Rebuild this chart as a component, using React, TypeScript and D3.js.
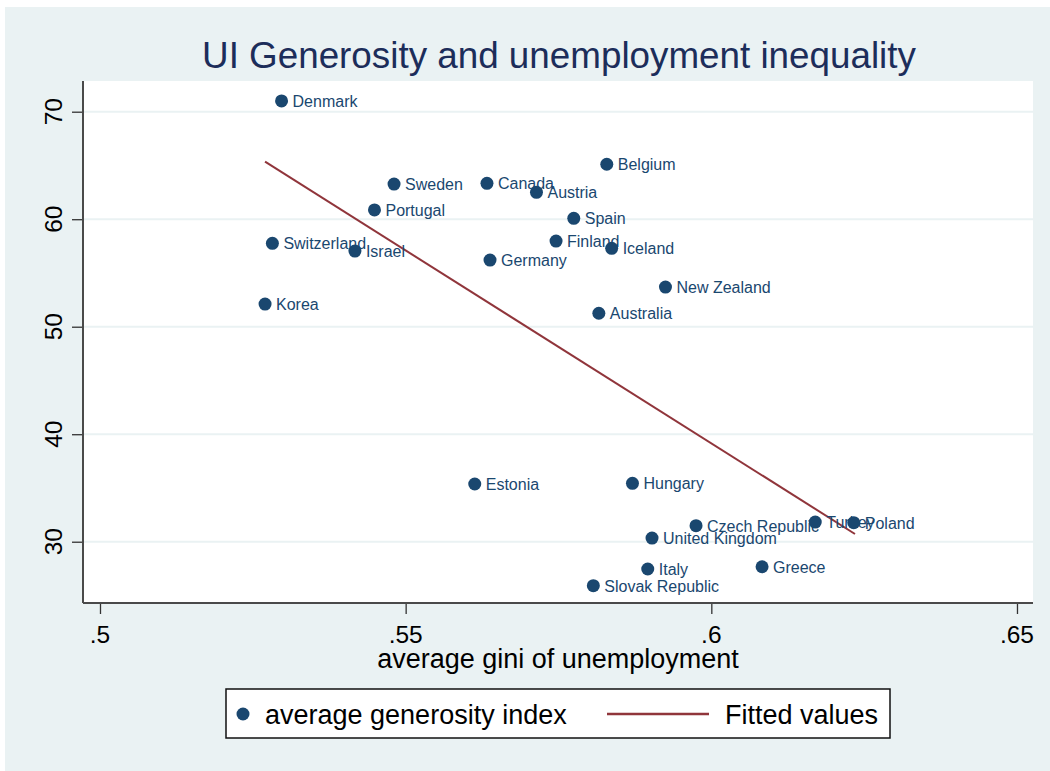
import { useRef, useEffect } from 'react';
import * as d3 from 'd3';

// Countries, average gini of unemployment (x), average generosity index (y)
const COUNTRIES = [
  'Denmark', 'Sweden', 'Canada', 'Austria', 'Belgium', 'Portugal', 'Spain',
  'Switzerland', 'Israel', 'Finland', 'Iceland', 'Germany', 'New Zealand',
  'Korea', 'Australia', 'Estonia', 'Hungary', 'Czech Republic', 'Turkey',
  'Poland', 'United Kingdom', 'Italy', 'Greece', 'Slovak Republic'
];
const GINI = [
  0.5297, 0.5481, 0.5633, 0.5714, 0.5829, 0.5449, 0.5775,
  0.5282, 0.5417, 0.5746, 0.5837, 0.5638, 0.5925,
  0.5270, 0.5816, 0.5613, 0.5871, 0.5975, 0.6170,
  0.6233, 0.5903, 0.5896, 0.6083, 0.5807
];
const GENEROSITY = [
  71.0, 63.27, 63.34, 62.5, 65.11, 60.86, 60.08,
  57.76, 57.04, 57.97, 57.29, 56.2, 53.69,
  52.11, 51.25, 35.37, 35.43, 31.49, 31.83,
  31.77, 30.34, 27.46, 27.67, 25.91
];
// Fitted values line (end points)
const FIT_X = [0.527, 0.6235];
const FIT_Y = [65.35, 30.72];

const X_TICKS = [0.5, 0.55, 0.6, 0.65];
const Y_TICKS = [30, 40, 50, 60, 70];

const TITLE = 'UI Generosity and unemployment inequality';
const X_TITLE = 'average gini of unemployment';
const LEGEND = ['average generosity index', 'Fitted values'];

const BG = '#eaf2f3';
const NAVY = '#1a476f';
const MAROON = '#90353b';
const FONT = '"Liberation Sans", Arial, sans-serif';

export default function App() {
  const ref = useRef<SVGSVGElement>(null);

  useEffect(() => {
    if (!ref.current) return;
    const width = 1050;
    const height = 771;
    const left = 83, right = 1033, top = 81, bottom = 603;

    const svg = d3.select(ref.current);
    svg.selectAll('*').remove();
    svg.attr('width', width).attr('height', height);

    svg.append('rect')
      .attr('x', 5).attr('y', 7)
      .attr('width', width - 5).attr('height', height - 7)
      .attr('fill', BG);

    const x = d3.scaleLinear().domain([0.49722, 0.65262]).range([left, right]);
    const y = d3.scaleLinear().domain([24.3, 72.856]).range([bottom, top]);

    // plot region
    svg.append('rect')
      .attr('x', left).attr('y', top)
      .attr('width', right - left).attr('height', bottom - top)
      .attr('fill', '#fff');

    // gridlines
    svg.append('g')
      .selectAll('line')
      .data(Y_TICKS)
      .join('line')
      .attr('x1', left).attr('x2', right)
      .attr('y1', (d) => y(d)).attr('y2', (d) => y(d))
      .attr('stroke', BG)
      .attr('stroke-width', 2);

    // title
    svg.append('text')
      .attr('x', (left + right) / 2 + 1)
      .attr('y', 67.5)
      .attr('text-anchor', 'middle')
      .attr('font-family', FONT)
      .attr('font-size', 36.8)
      .attr('fill', '#1c2d5a')
      .text(TITLE);

    // y axis
    const yAxis = svg.append('g').attr('transform', `translate(${left},0)`)
      .call(d3.axisLeft(y).tickValues(Y_TICKS).tickSize(11).tickFormat(() => ''));
    yAxis.select('.domain').remove();
    yAxis.selectAll('.tick line').attr('stroke', '#333').attr('stroke-width', 1.3);
    svg.append('line')
      .attr('x1', left).attr('x2', left).attr('y1', top).attr('y2', bottom)
      .attr('stroke', '#4a4a4a').attr('stroke-width', 2);
    svg.append('g')
      .selectAll('text')
      .data(Y_TICKS)
      .join('text')
      .attr('transform', (d) => `translate(62,${y(d)}) rotate(-90)`)
      .attr('text-anchor', 'middle')
      .attr('font-family', FONT)
      .attr('font-size', 24.5)
      .attr('fill', '#000')
      .text((d) => String(d));

    // x axis
    const xAxis = svg.append('g').attr('transform', `translate(0,${bottom})`)
      .call(d3.axisBottom(x).tickValues(X_TICKS).tickSize(11).tickFormat(() => ''));
    xAxis.select('.domain').remove();
    xAxis.selectAll('.tick line').attr('stroke', '#333').attr('stroke-width', 1.3);
    svg.append('line')
      .attr('x1', left).attr('x2', right).attr('y1', bottom).attr('y2', bottom)
      .attr('stroke', '#4a4a4a').attr('stroke-width', 2);
    svg.append('g')
      .selectAll('text')
      .data(X_TICKS)
      .join('text')
      .attr('x', (d) => x(d))
      .attr('y', 643)
      .attr('text-anchor', 'middle')
      .attr('font-family', FONT)
      .attr('font-size', 24.5)
      .attr('fill', '#000')
      .text((d) => d3.format('.2~f')(d).replace(/^0/, ''));

    svg.append('text')
      .attr('x', (left + right) / 2)
      .attr('y', 668)
      .attr('text-anchor', 'middle')
      .attr('font-family', FONT)
      .attr('font-size', 27)
      .attr('fill', '#000')
      .text(X_TITLE);

    // fitted line
    const line = d3.line<number>()
      .x((_, i) => x(FIT_X[i]))
      .y((d) => y(d));
    svg.append('path')
      .attr('d', line(FIT_Y))
      .attr('fill', 'none')
      .attr('stroke', MAROON)
      .attr('stroke-width', 2);

    // points
    const idx = d3.range(COUNTRIES.length);
    svg.append('g')
      .selectAll('circle')
      .data(idx)
      .join('circle')
      .attr('cx', (i) => x(GINI[i]))
      .attr('cy', (i) => y(GENEROSITY[i]))
      .attr('r', 6.5)
      .attr('fill', NAVY);

    svg.append('g')
      .selectAll('text')
      .data(idx)
      .join('text')
      .attr('x', (i) => x(GINI[i]) + 11)
      .attr('y', (i) => y(GENEROSITY[i]) + 6)
      .attr('font-family', FONT)
      .attr('font-size', 16)
      .attr('fill', NAVY)
      .text((i) => COUNTRIES[i]);

    // legend
    const lg = svg.append('g');
    lg.append('rect')
      .attr('x', 226).attr('y', 689)
      .attr('width', 664).attr('height', 49)
      .attr('fill', '#fff')
      .attr('stroke', '#111')
      .attr('stroke-width', 1.5);
    lg.append('circle')
      .attr('cx', 243).attr('cy', 714).attr('r', 6.5).attr('fill', NAVY);
    lg.append('text')
      .attr('x', 265).attr('y', 724)
      .attr('font-family', FONT).attr('font-size', 27).attr('fill', '#000')
      .text(LEGEND[0]);
    lg.append('line')
      .attr('x1', 607).attr('x2', 709).attr('y1', 714).attr('y2', 714)
      .attr('stroke', MAROON).attr('stroke-width', 2.5);
    lg.append('text')
      .attr('x', 725).attr('y', 724)
      .attr('font-family', FONT).attr('font-size', 27).attr('fill', '#000')
      .text(LEGEND[1]);
  }, []);

  return (
    <svg ref={ref} style={{ position: 'absolute', left: 0, top: 0, display: 'block' }}></svg>
  );
}
